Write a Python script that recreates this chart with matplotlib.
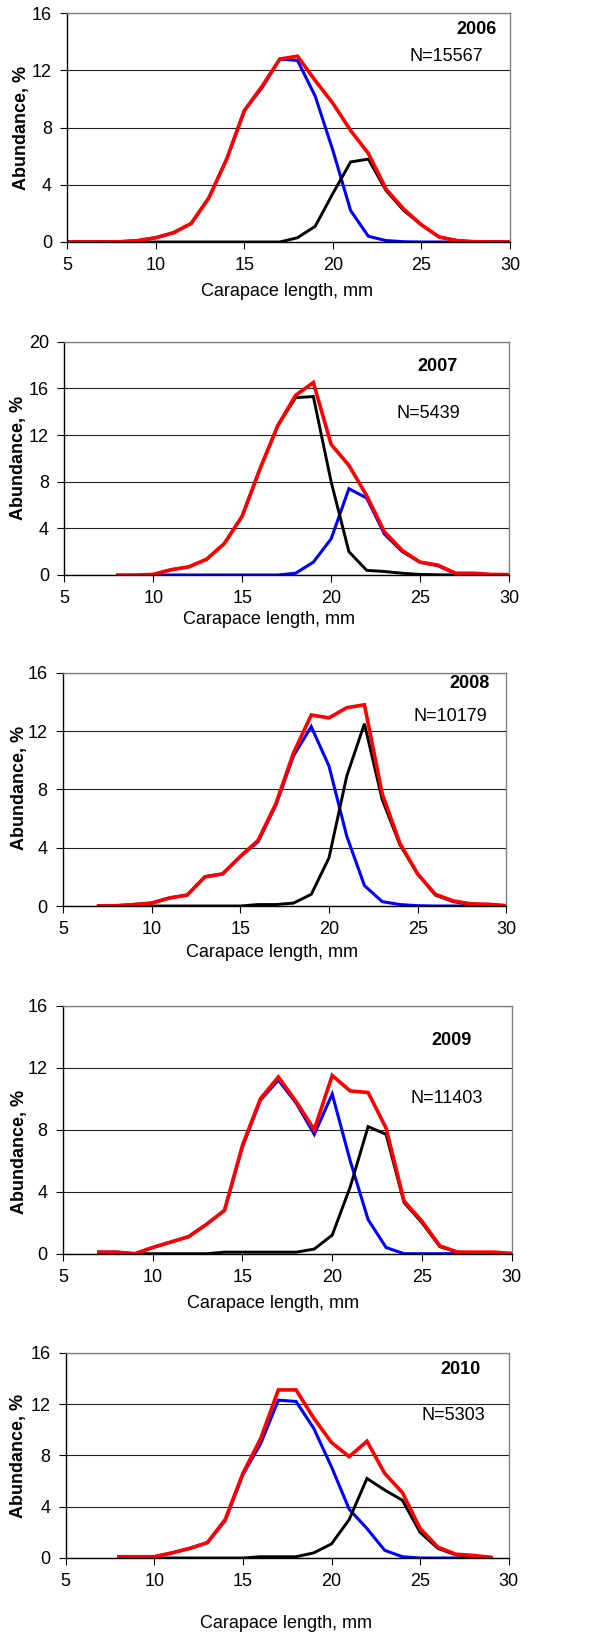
import matplotlib
matplotlib.use("Agg")
import matplotlib.pyplot as plt

plt.rcParams['font.family'] = ['Liberation Sans', 'DejaVu Sans']

# --- data (abundance, %) ---
years = ["2006", "2007", "2008", "2009", "2010"]
counts = ["N=15567", "N=5439", "N=10179", "N=11403", "N=5303"]

x_2006 = list(range(5, 31))
red_2006 = [0, 0, 0, 0.02, 0.1, 0.3, 0.65, 1.3, 3.1, 5.8, 9.2, 10.9, 12.8, 13.0,
            11.3, 9.7, 7.8, 6.2, 3.7, 2.3, 1.2, 0.35, 0.1, 0.02, 0, 0]
blue_2006 = [0, 0, 0, 0.02, 0.1, 0.3, 0.65, 1.3, 3.1, 5.8, 9.2, 10.8, 12.8, 12.7,
             10.2, 6.4, 2.2, 0.4, 0.1, 0.02, 0, 0, 0, 0, 0, 0]
black_2006 = [0] * 13 + [0.3, 1.1, 3.4, 5.6, 5.8, 3.6, 2.2, 1.2, 0.35, 0.1, 0.02, 0, 0]

x_red_2007 = list(range(8, 31))
red_2007 = [0, 0, 0.05, 0.45, 0.7, 1.35, 2.7, 5.05, 9.1, 12.8, 15.4, 16.5, 11.2,
            9.4, 6.8, 3.7, 2.1, 1.1, 0.85, 0.15, 0.15, 0.05, 0.03]
x_2007 = list(range(10, 31))
blue_2007 = [0] * 8 + [0.15, 1.1, 3.1, 7.4, 6.6, 3.5, 2.0, 1.1, 0.8, 0.1, 0.1, 0.03, 0.02]
black_2007 = [0.05, 0.45, 0.7, 1.35, 2.7, 5.05, 9.1, 12.8, 15.2, 15.3, 8.0, 2.0,
              0.4, 0.3, 0.15, 0.05, 0.02, 0, 0, 0, 0]

x_2008 = list(range(7, 31))
red_2008 = [0, 0.02, 0.1, 0.2, 0.55, 0.75, 2.0, 2.2, 3.4, 4.5, 7.0, 10.5, 13.1,
            12.9, 13.6, 13.8, 7.7, 4.3, 2.2, 0.8, 0.35, 0.15, 0.12, 0.02]
blue_2008 = [0, 0.02, 0.1, 0.2, 0.55, 0.75, 2.0, 2.2, 3.4, 4.4, 6.9, 10.3, 12.3,
             9.6, 4.8, 1.4, 0.3, 0.1, 0.02, 0, 0, 0, 0, 0]
black_2008 = [0] * 9 + [0.1, 0.1, 0.2, 0.8, 3.3, 8.9, 12.5, 7.3, 4.2, 2.2, 0.75,
                       0.3, 0.1, 0.1, 0.02]

x_2009 = list(range(7, 31))
red_2009 = [0.1, 0.1, 0, 0.4, 0.75, 1.1, 1.9, 2.8, 7.0, 10.0, 11.4, 9.8, 8.0,
            11.5, 10.5, 10.4, 8.1, 3.4, 2.1, 0.5, 0.1, 0.1, 0.1, 0.02]
blue_2009 = [0.1, 0.1, 0, 0.4, 0.75, 1.1, 1.9, 2.8, 6.9, 9.9, 11.2, 9.7, 7.7,
             10.3, 6.0, 2.2, 0.4, 0, 0, 0, 0, 0, 0, 0]
black_2009 = [0] * 7 + [0.1, 0.1, 0.1, 0.1, 0.1, 0.3, 1.2, 4.3, 8.2, 7.7, 3.3,
                       2.0, 0.45, 0.1, 0.05, 0.05, 0]

x_2010 = list(range(8, 30))
red_2010 = [0.1, 0.1, 0.1, 0.4, 0.75, 1.2, 3.0, 6.6, 9.3, 13.1, 13.1, 10.9, 9.0,
            7.9, 9.1, 6.6, 5.1, 2.3, 0.85, 0.3, 0.2, 0.05]
blue_2010 = [0.1, 0.1, 0.1, 0.4, 0.75, 1.2, 2.9, 6.5, 8.9, 12.3, 12.2, 10.1, 7.1,
             3.8, 2.3, 0.6, 0.1, 0, 0, 0, 0, 0]
black_2010 = [0] * 8 + [0.1, 0.1, 0.1, 0.4, 1.1, 3.0, 6.2, 5.3, 4.5, 2.0, 0.75,
                       0.25, 0.15, 0.05]

panels = [
    (x_2006, red_2006, x_2006, blue_2006, black_2006, 16),
    (x_red_2007, red_2007, x_2007, blue_2007, black_2007, 20),
    (x_2008, red_2008, x_2008, blue_2008, black_2008, 16),
    (x_2009, red_2009, x_2009, blue_2009, black_2009, 16),
    (x_2010, red_2010, x_2010, blue_2010, black_2010, 16),
]

# --- layout (pixels of the 590x1637 picture) ---
W, H = 590, 1637
boxes = [(67.3, 13.3, 510, 242), (64.3, 341.7, 509, 575), (63, 672.7, 506.3, 906),
         (63, 1005.7, 511.7, 1253.7), (65.7, 1352.7, 508.7, 1558)]
year_pos = [(0.97, 0.93), (0.884, 0.893), (0.963, 0.954), (0.91, 0.858), (0.937, 0.919)]
n_pos = [(0.94, 0.81), (0.89, 0.693), (0.957, 0.811), (0.935, 0.627), (0.948, 0.692)]
xlab_pos = [(287, 292), (269, 620), (272, 952), (273, 1303), (286, 1623)]
ylab_pos = [(21.7, 127.7), (18.3, 458), (20, 788), (20, 1152), (18.3, 1456)]

fig = plt.figure(figsize=(W / 100, H / 100), dpi=100)

for i, (xr, red, xb, blue, black, ymax) in enumerate(panels):
    l, t, r, b = boxes[i]
    ax = fig.add_axes([l / W, 1 - b / H, (r - l) / W, (b - t) / H])
    ax.plot(xb, blue, color='#0000ff', lw=2.2, solid_joinstyle='miter')
    ax.plot(xb, black, color='black', lw=2.1, solid_joinstyle='miter')
    ax.plot(xr, red, color='#ff0000', lw=2.6, solid_joinstyle='miter')

    ax.set_xlim(5, 30)
    ax.set_ylim(0, ymax)
    ax.set_xticks(range(5, 31, 5))
    ax.set_yticks(range(0, ymax + 1, 4))
    ax.yaxis.grid(True, color='#202020', lw=0.8)
    ax.set_axisbelow(True)
    ax.tick_params(labelsize=13, length=5, width=0.8, direction='out', pad=6)
    for s in ('top', 'right'):
        ax.spines[s].set_color('#808080')
        ax.spines[s].set_linewidth(1.0)
    for s in ('left', 'bottom'):
        ax.spines[s].set_color('black')
        ax.spines[s].set_linewidth(1.0)

    ax.text(*year_pos[i], years[i], transform=ax.transAxes, ha='right', va='center',
            fontsize=13, fontweight='bold')
    ax.text(*n_pos[i], counts[i], transform=ax.transAxes, ha='right', va='center',
            fontsize=13)

    fig.text(xlab_pos[i][0] / W, 1 - xlab_pos[i][1] / H, "Carapace length, mm",
             ha='center', va='center', fontsize=13)
    fig.text(ylab_pos[i][0] / W, 1 - ylab_pos[i][1] / H, "Abundance, %",
             ha='center', va='center', rotation=90, fontsize=13, fontweight='bold')

fig.savefig("out.png", dpi=100)
